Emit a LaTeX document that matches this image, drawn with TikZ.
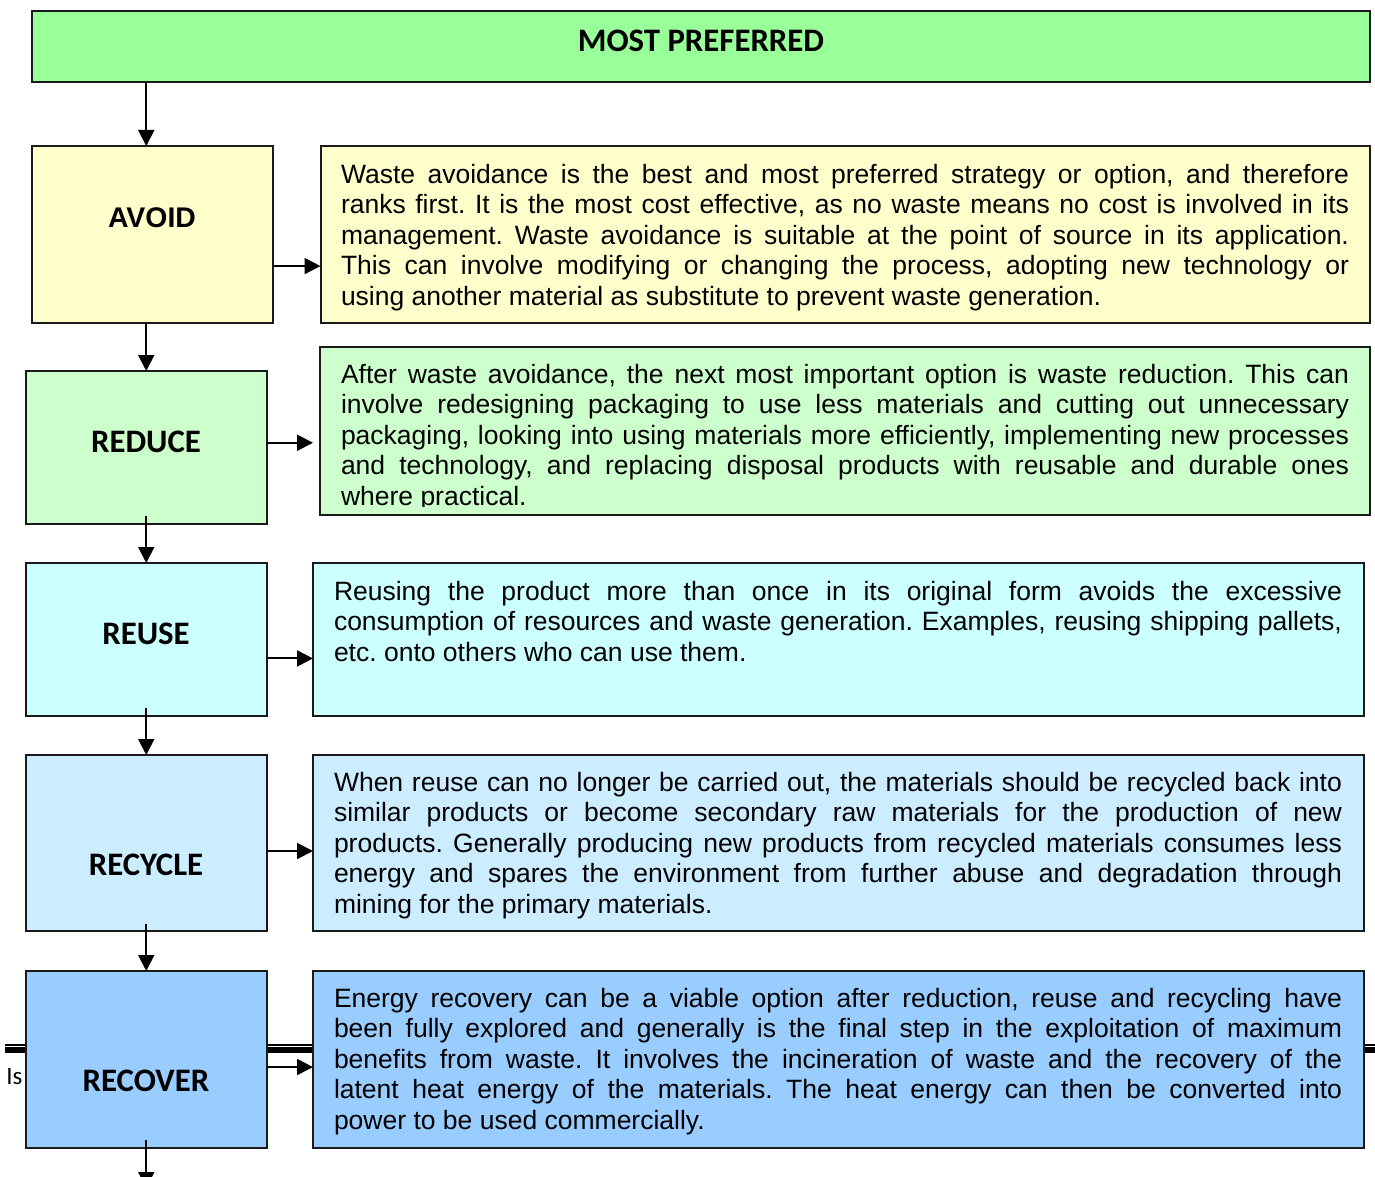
\documentclass[tikz,border=0pt]{standalone}
\usepackage{fontspec}
\setmainfont{Liberation Sans}
\newfontfamily\carlito{Carlito}
\usetikzlibrary{arrows.meta}
\frenchspacing
\definecolor{cTop}{HTML}{99FF99}
\definecolor{cAvoid}{HTML}{FFFFCC}
\definecolor{cReduce}{HTML}{CCFFCC}
\definecolor{cReuse}{HTML}{CCFFFF}
\definecolor{cRecycle}{HTML}{CCECFF}
\definecolor{cRecover}{HTML}{99CCFF}
\definecolor{cBorder}{HTML}{1A1A1A}
\tikzset{
  pbox/.style={draw=cBorder, line width=1pt, inner sep=0pt, outer sep=0pt, anchor=north west},
  desc/.style={anchor=base west, inner sep=0pt, outer sep=0pt, text width=504pt, align=justify,
    font=\frenchspacing\fontsize{13.25pt}{15.25pt}\selectfont},
  lbl/.style={anchor=base, inner sep=0pt, font=\carlito\bfseries\fontsize{16.4pt}{18pt}\selectfont},
  lblA/.style={anchor=base, inner sep=0pt, font=\bfseries\fontsize{14.2pt}{16pt}\selectfont},
  arr/.style={line width=1pt, -{Triangle[length=8pt,width=8pt]}},
}
\begin{document}
\begin{tikzpicture}[x=0.5pt,y=-0.5pt]
\useasboundingbox (0,0) rectangle (1375,1177);
\clip (0,0) rectangle (1375,1177);
% background page rule and fragment
\coordinate (ruleL) at (5,1045);
\coordinate (ruleR) at (1375,1045);
\coordinate (ruleL2) at (5,1050);
\coordinate (ruleR2) at (1375,1050);
\draw[line width=0.65pt] (ruleL) -- (ruleR);
\draw[line width=3pt] (ruleL2) -- (ruleR2);
\node[anchor=base west, inner sep=0pt, font=\carlito\fontsize{12.5pt}{14pt}\selectfont] (isfrag) at (6,1084) {Is};
% boxes
\node[pbox, fill=cTop, minimum width=669pt, minimum height=35.75pt] (top) at (32,11) {};
\node[pbox, fill=cAvoid, minimum width=120.5pt, minimum height=88.25pt] (avoid) at (32,146) {};
\node[pbox, fill=cAvoid, minimum width=524.75pt, minimum height=88.25pt] (avoidtxt) at (320.5,146) {};
\node[pbox, fill=cReduce, minimum width=120.25pt, minimum height=76.25pt] (reduce) at (26,371) {};
\node[pbox, fill=cReduce, minimum width=525pt, minimum height=84pt] (reducetxt) at (320,347) {};
\node[pbox, fill=cReuse, minimum width=120.25pt, minimum height=76.25pt] (reuse) at (26,563) {};
\node[pbox, fill=cReuse, minimum width=525.25pt, minimum height=76.25pt] (reusetxt) at (313,563) {};
\node[pbox, fill=cRecycle, minimum width=120.25pt, minimum height=88pt] (recycle) at (26,755) {};
\node[pbox, fill=cRecycle, minimum width=525.25pt, minimum height=88pt] (recycletxt) at (313,755) {};
\node[pbox, fill=cRecover, minimum width=120.25pt, minimum height=88.25pt] (recover) at (26,971) {};
\node[pbox, fill=cRecover, minimum width=525.25pt, minimum height=88.25pt] (recovertxt) at (313,971) {};
% labels
\node[lbl] (lTop) at (701,52) {MOST PREFERRED};
\node[lblA] (lAvoid) at (152,227) {AVOID};
\node[lbl] (lReduce) at (146,452) {REDUCE};
\node[lbl] (lReuse) at (146,644) {REUSE};
\node[lbl] (lRecycle) at (146,875) {RECYCLE};
\node[lbl] (lRecover) at (146,1091) {RECOVER};
% descriptions
\node[desc] (dAvoid) at (341,183) {Waste avoidance is the best and most preferred strategy or option, and therefore\linebreak
ranks first. It is the most cost effective, as no waste means no cost is involved in its\linebreak
management. Waste avoidance is suitable at the point of source in its application.\linebreak
This can involve modifying or changing the process, adopting new technology or\linebreak
using another material as substitute to prevent waste generation.};
\begin{scope}
\clip (320,347) rectangle (1370,506);
\node[desc] (dReduce) at (341,383) {After waste avoidance, the next most important option is waste reduction. This can\linebreak
involve redesigning packaging to use less materials and cutting out unnecessary\linebreak
packaging, looking into using materials more efficiently, implementing new processes\linebreak
and technology, and replacing disposal products with reusable and durable ones\linebreak
where practical.};
\end{scope}
\node[desc] (dReuse) at (334,600) {Reusing the product more than once in its original form avoids the excessive\linebreak
consumption of resources and waste generation. Examples, reusing shipping pallets,\linebreak
etc. onto others who can use them.};
\node[desc] (dRecycle) at (334,791) {When reuse can no longer be carried out, the materials should be recycled back into\linebreak
similar products or become secondary raw materials for the production of new\linebreak
products. Generally producing new products from recycled materials consumes less\linebreak
energy and spares the environment from further abuse and degradation through\linebreak
mining for the primary materials.};
\node[desc] (dRecover) at (334,1007) {Energy recovery can be a viable option after reduction, reuse and recycling have\linebreak
been fully explored and generally is the final step in the exploitation of maximum\linebreak
benefits from waste. It involves the incineration of waste and the recovery of the\linebreak
latent heat energy of the materials. The heat energy can then be converted into\linebreak
power to be used commercially.};
% vertical arrows
\draw[arr] (top.south -| reduce.north) -- (avoid.north -| reduce.north);
\draw[arr] (avoid.south -| reduce.north) -- (reduce.north);
\draw[arr] ([yshift=4pt]reduce.south) -- (reuse.north);
\draw[arr] ([yshift=3.75pt]reuse.south) -- (recycle.north);
\draw[arr] ([yshift=3.5pt]recycle.south) -- (recover.north);
\coordinate (below) at (146.25,1188);
\draw[arr] ([yshift=3.75pt]recover.south) -- (below);
% horizontal arrows
\draw[arr] ([yshift=-15.9pt]avoid.east) -- ([yshift=-15.9pt]avoid.east -| avoidtxt.west);
\draw[arr] ([yshift=2.25pt]reduce.east) -- ([yshift=2.25pt]reduce.east -| reusetxt.west);
\draw[arr] ([yshift=-9.6pt]reuse.east) -- ([yshift=-9.6pt]reuse.east -| reusetxt.west);
\draw[arr] ([yshift=-4pt]recycle.east) -- ([yshift=-4pt]recycle.east -| recycletxt.west);
\draw[arr] ([yshift=-3.9pt]recover.east) -- ([yshift=-3.9pt]recover.east -| recovertxt.west);
\end{tikzpicture}
\end{document}
